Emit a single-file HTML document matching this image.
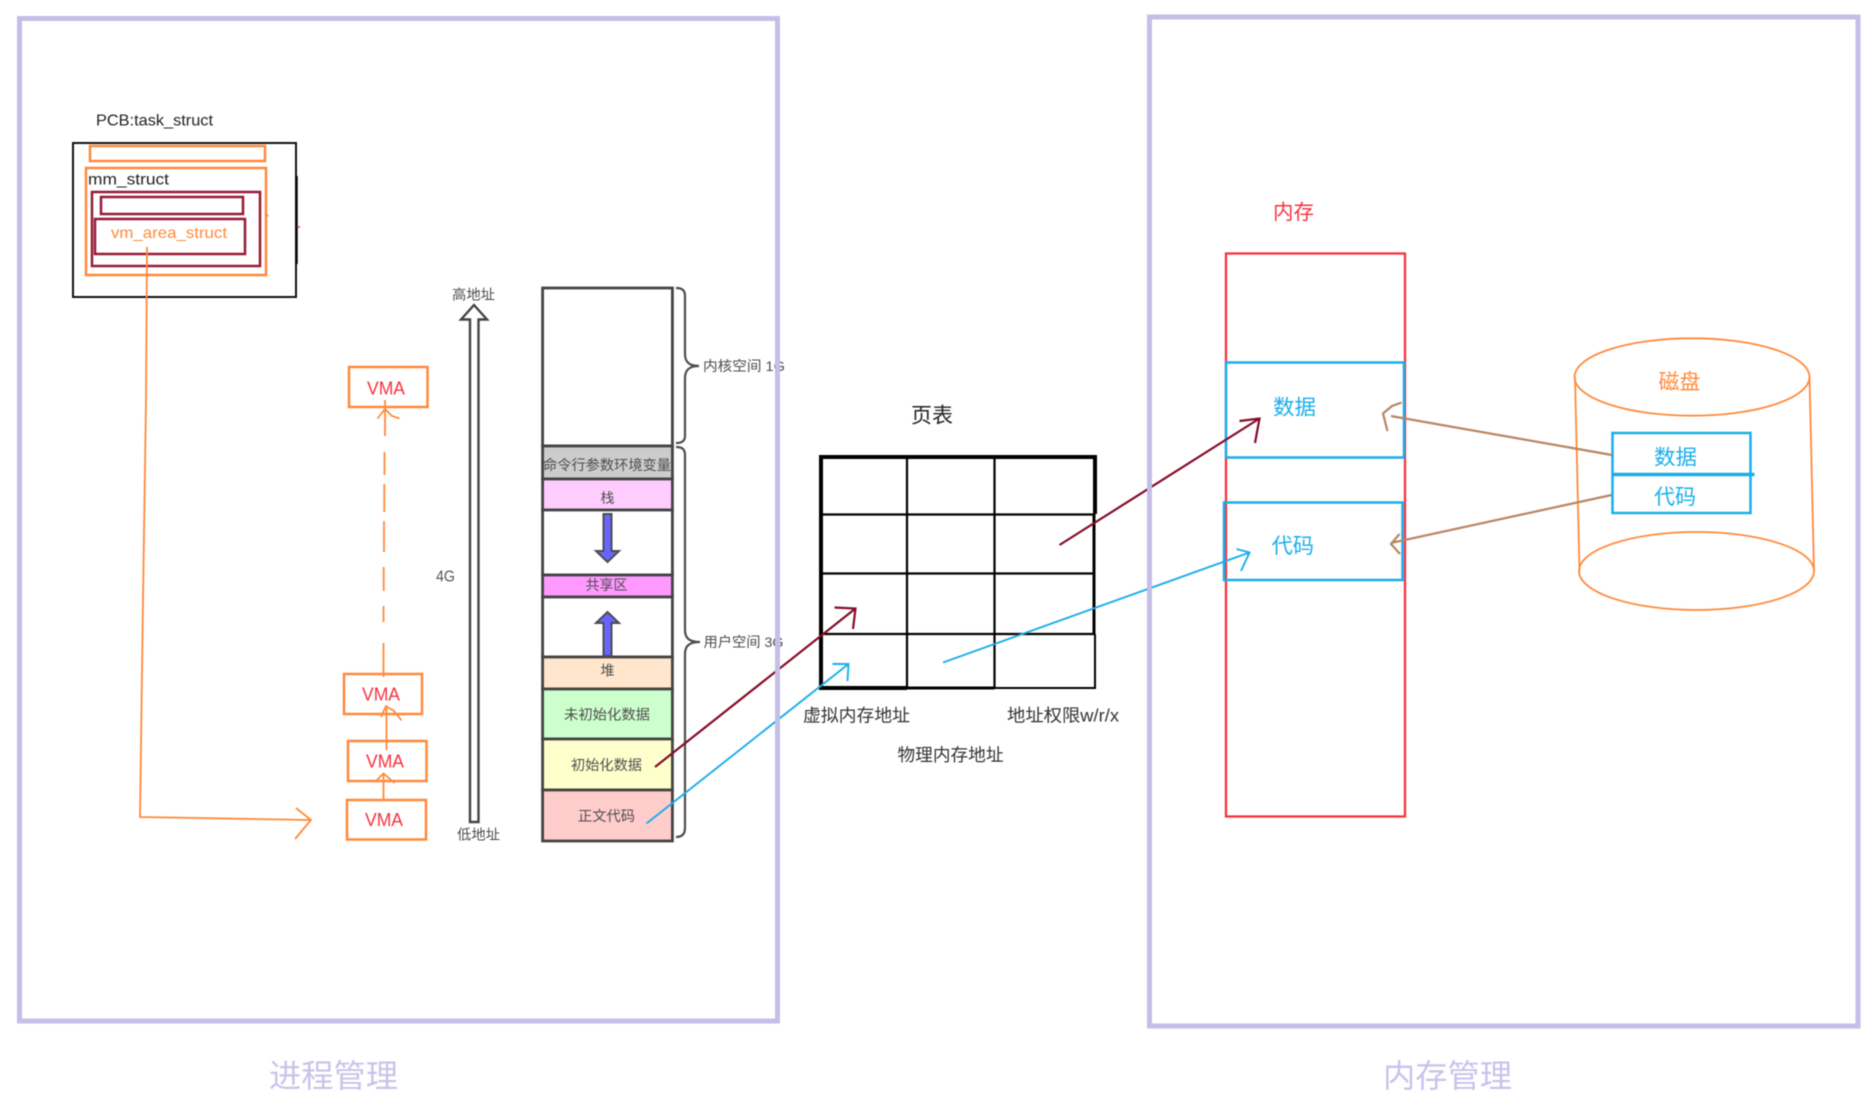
<!DOCTYPE html>
<html lang="zh">
<head>
<meta charset="utf-8">
<title>进程管理与内存管理</title>
<style>
html,body{margin:0;padding:0;background:#fff;width:1872px;height:1113px;overflow:hidden}
svg{display:block;filter:blur(.55px)}
text{font-family:"Liberation Sans","Noto Sans CJK SC",sans-serif}
.g{fill:#4d4d4d;font-size:14px}
.k{fill:#222}
.o{fill:none;stroke:#ff8a3c;stroke-width:2.5}
.o2{fill:none;stroke:#ff8a3c;stroke-width:1.8}
.d{fill:none;stroke:#951c36;stroke-width:2.5}
.b{fill:none;stroke:#1baeea;stroke-width:2.5}
.b2{fill:none;stroke:#1baeea;stroke-width:1.9}
.r{fill:none;stroke:#860c28;stroke-width:2.2}
.s{stroke:#444;stroke-width:2.8}
.br{fill:none;stroke:#b98560;stroke-width:2.2}
.t{stroke:#000;fill:none}
</style>
</head>
<body>
<svg width="1872" height="1113" viewBox="0 0 1872 1113" xmlns="http://www.w3.org/2000/svg">
<rect width="1872" height="1113" fill="#fff"/>

<!-- PCB -->
<text x="96" y="125.500" font-size="16" class="k" textLength="117" lengthAdjust="spacingAndGlyphs">PCB:task_struct</text>
<rect x="73" y="143" width="223" height="154" fill="none" stroke="#111" stroke-width="2"/>
<path d="M296.800 176V264" stroke="#000" stroke-width="1.800"/>
<path d="M297 227h3M265 214l3 2" stroke="#f33" stroke-width="1.500"/>
<rect x="90" y="146" width="175" height="15" class="o"/>
<rect x="86" y="168" width="180" height="107" class="o"/>
<text x="88" y="184.500" font-size="16" class="k" textLength="81" lengthAdjust="spacingAndGlyphs">mm_struct</text>
<rect x="92" y="192" width="168" height="74" class="d"/>
<rect x="101" y="197" width="142" height="17" class="d"/>
<rect x="95" y="219" width="150" height="35" class="d"/>
<text x="111" y="238" font-size="16" fill="#ff8a3c" textLength="116" lengthAdjust="spacingAndGlyphs">vm_area_struct</text>

<!-- orange long arrow -->
<path class="o2" d="M147 247L146 400L143 600L140 817L310 820M296 808L311 820L295 839"/>

<!-- VMA boxes -->
<rect x="349" y="367" width="78.500" height="40" class="o"/>
<text x="367" y="394.500" font-size="18" fill="#f5333f" textLength="38" lengthAdjust="spacingAndGlyphs">VMA</text>
<rect x="344" y="674" width="78" height="40" class="o"/>
<text x="362" y="700.500" font-size="18" fill="#f5333f" textLength="38" lengthAdjust="spacingAndGlyphs">VMA</text>
<rect x="348" y="741" width="78.500" height="40" class="o"/>
<text x="366" y="767.500" font-size="18" fill="#f5333f" textLength="38" lengthAdjust="spacingAndGlyphs">VMA</text>
<rect x="347" y="800" width="79" height="39.500" class="o"/>
<text x="365" y="826" font-size="18" fill="#f5333f" textLength="38" lengthAdjust="spacingAndGlyphs">VMA</text>

<!-- VMA arrows -->
<path class="o2" d="M383.500 677V643M383.500 622V606M383.700 591V567M384 552V521M384.300 512V484M384.500 475V452M385 436V400"/>
<path class="o2" d="M377.500 418.500L385 409L392 416L399.500 418.500"/>
<path class="o2" d="M386.500 750V708M381 717L386 706L394 711L401.500 720.500"/>
<path class="o2" d="M383.500 800V775M376.500 780.500L383.500 773.500L394.500 783"/>

<!-- address arrow -->
<text x="452" y="299.500" class="g" textLength="43" lengthAdjust="spacingAndGlyphs">高地址</text>
<path d="M470 822V319.500H461L474 305L487 319.500H478.500V822Z" fill="#fff" stroke="#444" stroke-width="2.400"/>
<text x="436" y="581.500" font-size="16" fill="#555" textLength="19" lengthAdjust="spacingAndGlyphs">4G</text>
<text x="457" y="839.500" class="g" textLength="43" lengthAdjust="spacingAndGlyphs">低地址</text>

<!-- stack -->
<rect x="542.600" y="288" width="129.800" height="158" fill="#fff" class="s"/>
<rect x="542.600" y="446" width="129.800" height="33" fill="#ccc" class="s"/>
<rect x="542.600" y="479" width="129.800" height="31" fill="#fcf" class="s"/>
<rect x="542.600" y="510" width="129.800" height="65" fill="#fff" class="s"/>
<rect x="542.600" y="575" width="129.800" height="22" fill="#f9f" class="s"/>
<rect x="542.600" y="597" width="129.800" height="60" fill="#fff" class="s"/>
<rect x="542.600" y="657" width="129.800" height="32" fill="#ffe6cc" class="s"/>
<rect x="542.600" y="689" width="129.800" height="50" fill="#cfc" class="s"/>
<rect x="542.600" y="739" width="129.800" height="51" fill="#ffc" class="s"/>
<rect x="542.600" y="790" width="129.800" height="51" fill="#fcc" class="s"/>

<text x="543" y="470" class="g" textLength="128" lengthAdjust="spacingAndGlyphs">命令行参数环境变量</text>
<text x="600.500" y="503" class="g">栈</text>
<text x="585.500" y="590" class="g" textLength="42" lengthAdjust="spacingAndGlyphs">共享区</text>
<text x="600.500" y="675.500" class="g">堆</text>
<text x="564" y="719.500" class="g" textLength="86" lengthAdjust="spacingAndGlyphs">未初始化数据</text>
<text x="571" y="770" class="g" textLength="71" lengthAdjust="spacingAndGlyphs">初始化数据</text>
<text x="578" y="821" class="g" textLength="57" lengthAdjust="spacingAndGlyphs">正文代码</text>

<!-- stack arrows -->
<path d="M603.500 514H611.500V551H619L607.500 562L596 551H603.500Z" fill="#66f" stroke="#4d4d4d" stroke-width="2"/>
<path d="M603.500 656V623H596L607.500 612L619 623H611.500V656Z" fill="#66f" stroke="#4d4d4d" stroke-width="2"/>

<!-- braces -->
<path d="M676 288C682 288 685 290 685 296V354C685 362 689 366 699 366C689 366 685 370 685 378V436C685 441 682 443 676 443" fill="none" stroke="#4d4d4d" stroke-width="2.200"/>
<path d="M676 447C682 447 685 449 685 455V630C685 638 689 642 700 642C689 642 685 646 685 654V828C685 834 682 837 676 837" fill="none" stroke="#4d4d4d" stroke-width="2.200"/>
<text x="703" y="371" class="g" textLength="82" lengthAdjust="spacingAndGlyphs">内核空间 1G</text>
<text x="703.500" y="647" class="g" textLength="80" lengthAdjust="spacingAndGlyphs">用户空间 3G</text>

<!-- page table -->
<text x="911" y="422.500" font-size="21" class="k" textLength="42" lengthAdjust="spacingAndGlyphs">页表</text>
<path class="t" stroke-width="2.200" d="M821 514.500H1095M821 573.500H1095M821 634H1095M907 457V688M994.500 457V688"/>
<path class="t" stroke-width="2" d="M994.500 688H1095V634"/>
<path class="t" stroke-width="4" d="M1095 514V457H821V688H907"/>
<path class="t" stroke-width="3" d="M1094 514V634M907 688H994.500"/>

<text x="803" y="721.500" font-size="17.500" fill="#333" textLength="107" lengthAdjust="spacingAndGlyphs">虚拟内存地址</text>
<text x="1007" y="721.500" font-size="17.500" fill="#333" textLength="112" lengthAdjust="spacingAndGlyphs">地址权限w/r/x</text>
<text x="897.500" y="761" font-size="17.500" fill="#333" textLength="106" lengthAdjust="spacingAndGlyphs">物理内存地址</text>

<!-- memory -->
<text x="1273" y="219" font-size="20.500" fill="#f5333f" textLength="41" lengthAdjust="spacingAndGlyphs">内存</text>
<rect x="1226" y="253.500" width="179" height="563" fill="none" stroke="#f5333f" stroke-width="2.300"/>
<rect x="1226" y="362.500" width="178" height="95" class="b"/>
<rect x="1224" y="502.500" width="178.500" height="77.500" class="b"/>
<text x="1273" y="414.500" font-size="21" fill="#1baeea" textLength="43" lengthAdjust="spacingAndGlyphs">数据</text>
<text x="1271.500" y="553" font-size="21" fill="#1baeea" textLength="42.500" lengthAdjust="spacingAndGlyphs">代码</text>

<!-- disk -->
<ellipse cx="1692" cy="377" rx="117.500" ry="38.700" class="o2"/>
<ellipse cx="1696.500" cy="571" rx="117.500" ry="39" class="o2"/>
<path class="o2" d="M1575 377L1579.500 571M1809.500 377L1814 571"/>
<text x="1658.500" y="389" font-size="21" fill="#ff8a3c" textLength="42" lengthAdjust="spacingAndGlyphs">磁盘</text>
<rect x="1612.500" y="433" width="138" height="80" class="b"/>
<path d="M1612 474.500H1754.500" stroke="#1baeea" stroke-width="3.500"/>
<text x="1654" y="464.500" font-size="21" fill="#1baeea" textLength="43" lengthAdjust="spacingAndGlyphs">数据</text>
<text x="1654" y="504" font-size="21" fill="#1baeea" textLength="42" lengthAdjust="spacingAndGlyphs">代码</text>

<!-- brown arrows -->
<path class="br" d="M1612 455L1391 416M1401.500 402.500L1392 406L1383 413.500L1387.500 431"/>
<path class="br" d="M1611.500 495L1391 543M1399.500 534L1391 544L1400 554"/>

<!-- red / blue mapping arrows -->
<path class="r" d="M655 767L855.500 608.500M834.500 607.500L855.500 608.500L853 629"/>
<path class="b2" d="M646.500 823.500L848.500 664M832.500 664H848.500L847.500 681"/>
<path class="r" d="M1059.500 545L1259.500 418.500M1239.500 421L1259.500 418.500L1255 443"/>
<path class="b2" d="M943 662.500L1249.500 552.500M1236.500 549L1249.500 552.500L1241 571"/>

<!-- panels -->
<rect x="19.500" y="18.500" width="758" height="1002.500" fill="none" stroke="#c5bfe8" stroke-width="5"/>
<rect x="1149.500" y="17" width="708.500" height="1009" fill="none" stroke="#c5bfe8" stroke-width="5"/>
<text x="269" y="1087" font-size="32" fill="#c9c3ea" textLength="129" lengthAdjust="spacingAndGlyphs">进程管理</text>
<text x="1383" y="1087" font-size="32" fill="#c9c3ea" textLength="129" lengthAdjust="spacingAndGlyphs">内存管理</text>
</svg>
</body>
</html>
